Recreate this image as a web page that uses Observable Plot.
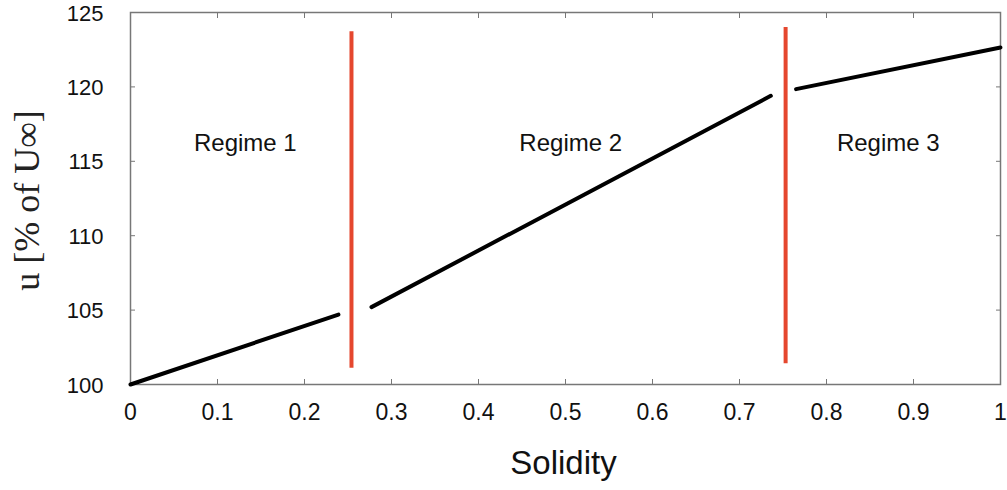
<!DOCTYPE html>
<html>
<head>
<meta charset="utf-8">
<script src="https://cdn.jsdelivr.net/npm/d3@7"></script>
<script src="https://cdn.jsdelivr.net/npm/@observablehq/plot@0.6"></script>
<style>
  body { margin: 0; background: #fff; }
  #chart svg { font-family: "Liberation Sans", Arial, sans-serif; }
</style>
</head>
<body>
<div id="chart"></div>
<script>
// Line segments (solidity, u %)
const seg1X = [0, 0.239];
const seg1Y = [100, 104.7];
const seg2X = [0.277, 0.736];
const seg2Y = [105.2, 119.4];
const seg3X = [0.765, 1.0];
const seg3Y = [119.85, 122.65];
// Regime boundaries
const boundX = [0.254, 0.753];
const boundTop = [123.7, 124.0];
const boundBottom = [101.1, 101.4];
// Regime labels
const regimeNames = ["Regime 1", "Regime 2", "Regime 3"];
const regimeX = [0.132, 0.506, 0.871];
const regimeY = [116.2, 116.2, 116.2];
// Ticks
const xTicks = [0, 0.1, 0.2, 0.3, 0.4, 0.5, 0.6, 0.7, 0.8, 0.9, 1];
const xTickLabels = ["0", "0.1", "0.2", "0.3", "0.4", "0.5", "0.6", "0.7", "0.8", "0.9", "1"];
const yTicks = [100, 105, 110, 115, 120, 125];

const segs = [
  ...seg1X.map((x, i) => ({x, y: seg1Y[i], s: 1})),
  ...seg2X.map((x, i) => ({x, y: seg2Y[i], s: 2})),
  ...seg3X.map((x, i) => ({x, y: seg3Y[i], s: 3}))
];
const bounds = boundX.map((x, i) => ({x, y1: boundBottom[i], y2: boundTop[i]}));
const regimes = regimeNames.map((t, i) => ({t, x: regimeX[i], y: regimeY[i]}));
const xLabels = xTicks.map((v, i) => ({v, t: xTickLabels[i]}));

const chart = Plot.plot({
  width: 1007,
  height: 490,
  marginLeft: 130,
  marginRight: 7,
  marginTop: 12,
  marginBottom: 106,
  x: {domain: [0, 1]},
  y: {domain: [100, 125]},
  style: {fontFamily: "Liberation Sans, Arial, sans-serif", color: "#111"},
  marks: [
    Plot.frame({stroke: "#777", strokeWidth: 1.5}),
    Plot.axisX({ticks: xTicks, tickSize: -5, text: null, label: null, stroke: "#777"}),
    Plot.axisX({anchor: "top", ticks: xTicks, tickSize: -5, text: null, label: null, stroke: "#777"}),
    Plot.axisY({ticks: yTicks, tickSize: -5, text: null, label: null, stroke: "#777"}),
    Plot.axisY({anchor: "right", ticks: yTicks, tickSize: -5, text: null, label: null, stroke: "#777"}),
    Plot.text(xLabels, {x: "v", text: "t", frameAnchor: "bottom", dy: 35, fontSize: 23, fill: "#111"}),
    Plot.text(yTicks, {y: d => d, text: d => String(d), frameAnchor: "left", textAnchor: "end", dx: -27, dy: 1, fontSize: 22, fill: "#111"}),
    Plot.line(segs, {x: "x", y: "y", z: "s", stroke: "#000", strokeWidth: 4}),
    Plot.ruleX(bounds, {x: "x", y1: "y1", y2: "y2", stroke: "#e5472e", strokeWidth: 4}),
    Plot.text(regimes, {x: "x", y: "y", text: "t", fontSize: 24, fill: "#111"}),
    Plot.text(["Solidity"], {frameAnchor: "bottom", dy: 89, dx: -2, fontSize: 33, fill: "#111"}),
    Plot.text(["u [% of U\u221E]"], {frameAnchor: "left", textAnchor: "middle", dx: -103, dy: 2, rotate: -90, fontSize: 36, fontFamily: "Liberation Serif, DejaVu Serif, serif", fill: "#222"})
  ]
});
document.getElementById("chart").appendChild(chart);
</script>
</body>
</html>
